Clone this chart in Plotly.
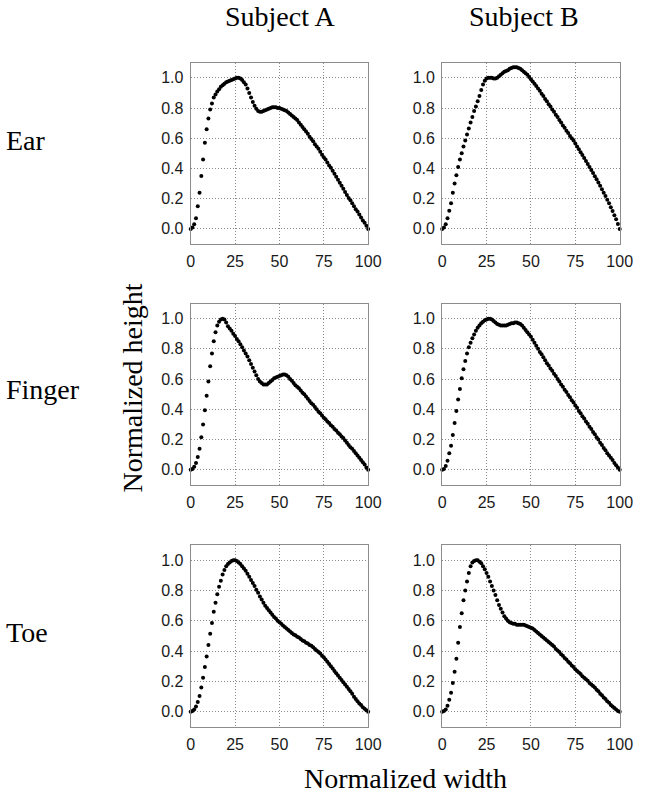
import plotly.graph_objects as go

X = list(range(0, 101))

ear_a = [0.00, 0.01, 0.03, 0.07, 0.15, 0.24, 0.35, 0.46, 0.57, 0.66,
         0.73, 0.79, 0.83, 0.87, 0.89, 0.91, 0.925, 0.94, 0.95, 0.96,
         0.97, 0.975, 0.98, 0.985, 0.99, 0.995, 1.00, 1.00, 0.995, 0.985,
         0.97, 0.955, 0.93, 0.90, 0.87, 0.84, 0.815, 0.795, 0.78, 0.775,
         0.775, 0.78, 0.785, 0.79, 0.795, 0.80, 0.805, 0.805, 0.805, 0.80,
         0.80, 0.795, 0.79, 0.785, 0.78, 0.77, 0.76, 0.75, 0.74, 0.73,
         0.72, 0.705, 0.69, 0.675, 0.66, 0.645, 0.63, 0.61, 0.595, 0.58,
         0.56, 0.545, 0.53, 0.51, 0.49, 0.475, 0.46, 0.44, 0.42, 0.405,
         0.385, 0.365, 0.345, 0.325, 0.305, 0.285, 0.265, 0.245, 0.225, 0.205,
         0.19, 0.17, 0.15, 0.13, 0.115, 0.095, 0.075, 0.055, 0.04, 0.02,
         0.00]

ear_b = [0.00, 0.01, 0.03, 0.07, 0.12, 0.17, 0.24, 0.30, 0.355, 0.41,
         0.46, 0.50, 0.545, 0.585, 0.625, 0.665, 0.705, 0.74, 0.78, 0.81,
         0.845, 0.88, 0.92, 0.955, 0.98, 0.995, 1.00, 1.00, 1.00, 0.995,
         0.995, 1.00, 1.01, 1.02, 1.03, 1.04, 1.045, 1.05, 1.06, 1.065,
         1.07, 1.07, 1.07, 1.065, 1.06, 1.05, 1.04, 1.03, 1.02, 1.005,
         0.99, 0.975, 0.96, 0.945, 0.93, 0.915, 0.895, 0.88, 0.86, 0.845,
         0.825, 0.81, 0.79, 0.775, 0.755, 0.74, 0.72, 0.705, 0.685, 0.67,
         0.65, 0.635, 0.615, 0.60, 0.585, 0.565, 0.546, 0.527, 0.508, 0.489,
         0.47, 0.45, 0.43, 0.41, 0.39, 0.37, 0.349, 0.328, 0.307, 0.285,
         0.263, 0.24, 0.217, 0.193, 0.169, 0.144, 0.118, 0.091, 0.063, 0.033,
         0.00]

finger_a = [0.00, 0.005, 0.02, 0.045, 0.085, 0.14, 0.215, 0.30, 0.395, 0.49,
            0.585, 0.685, 0.77, 0.85, 0.91, 0.955, 0.98, 0.995, 1.00, 0.995,
            0.975, 0.95, 0.935, 0.92, 0.90, 0.885, 0.865, 0.85, 0.83, 0.81,
            0.79, 0.77, 0.75, 0.725, 0.70, 0.675, 0.65, 0.625, 0.60, 0.585,
            0.575, 0.565, 0.565, 0.565, 0.575, 0.585, 0.595, 0.605, 0.61, 0.615,
            0.62, 0.625, 0.63, 0.63, 0.625, 0.615, 0.60, 0.59, 0.575, 0.56,
            0.55, 0.54, 0.525, 0.51, 0.50, 0.485, 0.47, 0.455, 0.44, 0.43,
            0.415, 0.40, 0.385, 0.375, 0.36, 0.345, 0.335, 0.32, 0.31, 0.295,
            0.285, 0.27, 0.26, 0.245, 0.235, 0.22, 0.21, 0.195, 0.18, 0.165,
            0.15, 0.14, 0.125, 0.11, 0.095, 0.08, 0.065, 0.05, 0.035, 0.015,
            0.00]

finger_b = [0.00, 0.005, 0.025, 0.06, 0.11, 0.16, 0.23, 0.31, 0.39, 0.465,
            0.535, 0.605, 0.665, 0.72, 0.77, 0.81, 0.84, 0.87, 0.895, 0.92,
            0.94, 0.955, 0.97, 0.98, 0.99, 0.995, 1.00, 1.00, 0.995, 0.985,
            0.975, 0.965, 0.96, 0.955, 0.955, 0.955, 0.955, 0.96, 0.965, 0.97,
            0.97, 0.975, 0.975, 0.97, 0.965, 0.955, 0.94, 0.925, 0.91, 0.895,
            0.88, 0.86, 0.84, 0.82, 0.80, 0.78, 0.765, 0.745, 0.725, 0.705,
            0.69, 0.67, 0.655, 0.635, 0.62, 0.60, 0.585, 0.565, 0.55, 0.53,
            0.515, 0.495, 0.48, 0.46, 0.445, 0.425, 0.41, 0.39, 0.375, 0.355,
            0.34, 0.32, 0.305, 0.285, 0.27, 0.25, 0.235, 0.215, 0.20, 0.18,
            0.165, 0.145, 0.13, 0.11, 0.095, 0.08, 0.065, 0.045, 0.03, 0.015,
            0.00]

toe_a = [0.00, 0.005, 0.015, 0.035, 0.065, 0.105, 0.16, 0.225, 0.295, 0.365,
         0.44, 0.515, 0.585, 0.66, 0.72, 0.775, 0.825, 0.865, 0.905, 0.935,
         0.96, 0.975, 0.985, 0.995, 1.00, 1.00, 0.995, 0.985, 0.975, 0.96,
         0.945, 0.93, 0.91, 0.89, 0.87, 0.85, 0.83, 0.805, 0.785, 0.76,
         0.74, 0.72, 0.70, 0.685, 0.67, 0.655, 0.64, 0.625, 0.615, 0.60,
         0.59, 0.58, 0.57, 0.56, 0.55, 0.54, 0.53, 0.52, 0.51, 0.505,
         0.495, 0.49, 0.48, 0.47, 0.465, 0.455, 0.45, 0.44, 0.435, 0.425,
         0.415, 0.405, 0.395, 0.385, 0.37, 0.36, 0.345, 0.33, 0.315, 0.30,
         0.285, 0.27, 0.255, 0.24, 0.225, 0.21, 0.195, 0.18, 0.165, 0.15,
         0.135, 0.12, 0.10, 0.085, 0.07, 0.055, 0.045, 0.03, 0.02, 0.01,
         0.00]

toe_b = [0.00, 0.005, 0.015, 0.04, 0.08, 0.125, 0.19, 0.265, 0.35, 0.455,
         0.56, 0.65, 0.735, 0.80, 0.86, 0.915, 0.96, 0.985, 0.995, 1.00,
         1.00, 0.99, 0.98, 0.96, 0.94, 0.915, 0.89, 0.86, 0.83, 0.80,
         0.77, 0.735, 0.705, 0.68, 0.655, 0.63, 0.615, 0.60, 0.59, 0.585,
         0.58, 0.58, 0.575, 0.575, 0.575, 0.575, 0.575, 0.57, 0.565, 0.56,
         0.555, 0.55, 0.54, 0.53, 0.52, 0.51, 0.50, 0.49, 0.48, 0.47,
         0.46, 0.45, 0.44, 0.43, 0.415, 0.405, 0.395, 0.38, 0.37, 0.355,
         0.345, 0.33, 0.32, 0.305, 0.295, 0.28, 0.27, 0.26, 0.25, 0.235,
         0.225, 0.215, 0.205, 0.19, 0.18, 0.17, 0.16, 0.145, 0.135, 0.12,
         0.11, 0.095, 0.085, 0.07, 0.06, 0.045, 0.035, 0.025, 0.015, 0.005,
         0.00]

col_titles = ["Subject A", "Subject B"]
row_titles = ["Ear", "Finger", "Toe"]
series = [[ear_a, ear_b], [finger_a, finger_b], [toe_a, toe_b]]
x_ticks = [0, 25, 50, 75, 100]
y_ticks = [0.0, 0.2, 0.4, 0.6, 0.8, 1.0]

W, H = 647, 796
col_px = [(191.7, 374.0), (450.0, 632.3)]
row_px = [(62.7, 244.0), (303.5, 485.0), (545.0, 727.0)]

SERIF = "Liberation Serif, Times New Roman, serif"
SANS = "Liberation Sans, Arial, Helvetica, sans-serif"

fig = go.Figure()
layout = {}
k = 0
for r in range(3):
    for c in range(2):
        k += 1
        xa = "x" if k == 1 else f"x{k}"
        ya = "y" if k == 1 else f"y{k}"
        fig.add_trace(go.Scatter(
            x=X, y=series[r][c], mode="markers", xaxis=xa, yaxis=ya,
            marker=dict(color="black", size=4, line=dict(width=0)),
            cliponaxis=False, showlegend=False, hoverinfo="skip"))
        x0, x1 = col_px[c]
        y0, y1 = row_px[r]
        common = dict(showline=True, mirror=True, linecolor="#8c8c8c", linewidth=1,
                      showgrid=True, gridcolor="#8a8a8a", griddash="1px,2px", gridwidth=1,
                      zeroline=False, ticks="", ticklen=0,
                      tickfont=dict(family=SANS, size=16, color="#1a1a1a"))
        layout["xaxis" if k == 1 else f"xaxis{k}"] = dict(
            domain=[x0 / W, x1 / W], anchor=ya, range=[0, 100],
            tickvals=x_ticks, ticktext=[str(v) for v in x_ticks],
            ticklabelstandoff=3, **common)
        layout["yaxis" if k == 1 else f"yaxis{k}"] = dict(
            domain=[1 - y1 / H, 1 - y0 / H], anchor=xa, range=[-0.1, 1.1],
            tickvals=y_ticks, ticktext=[f"{v:.1f}" for v in y_ticks],
            ticklabelstandoff=3, **common)

fig.update_layout(**layout)

ann = []
col_title_x = [283, 534]
for c, t in enumerate(col_titles):
    ann.append(dict(text=t, x=col_title_x[c] / W, y=1 - 17 / H, xref="paper", yref="paper",
                    showarrow=False, xanchor="center", yanchor="middle",
                    font=dict(family=SERIF, size=28, color="black")))
row_title_y = [140, 389, 632]
for r, t in enumerate(row_titles):
    ann.append(dict(text=t, x=1 / W, y=1 - row_title_y[r] / H, xref="paper", yref="paper",
                    showarrow=False, xanchor="left", yanchor="middle", borderpad=0,
                    font=dict(family=SERIF, size=28, color="black")))
ann.append(dict(text="Normalized height", x=131 / W, y=1 - 388 / H, xref="paper", yref="paper",
                showarrow=False, xanchor="center", yanchor="middle", textangle=-90,
                font=dict(family=SERIF, size=28, color="black")))
ann.append(dict(text="Normalized width", x=412 / W, y=1 / H, xref="paper", yref="paper",
                showarrow=False, xanchor="center", yanchor="bottom", borderpad=0,
                font=dict(family=SERIF, size=28, color="black")))

fig.update_layout(width=W, height=H, margin=dict(l=0, r=0, t=0, b=0),
                  paper_bgcolor="white", plot_bgcolor="white", annotations=ann)

fig.write_html("out.html")
